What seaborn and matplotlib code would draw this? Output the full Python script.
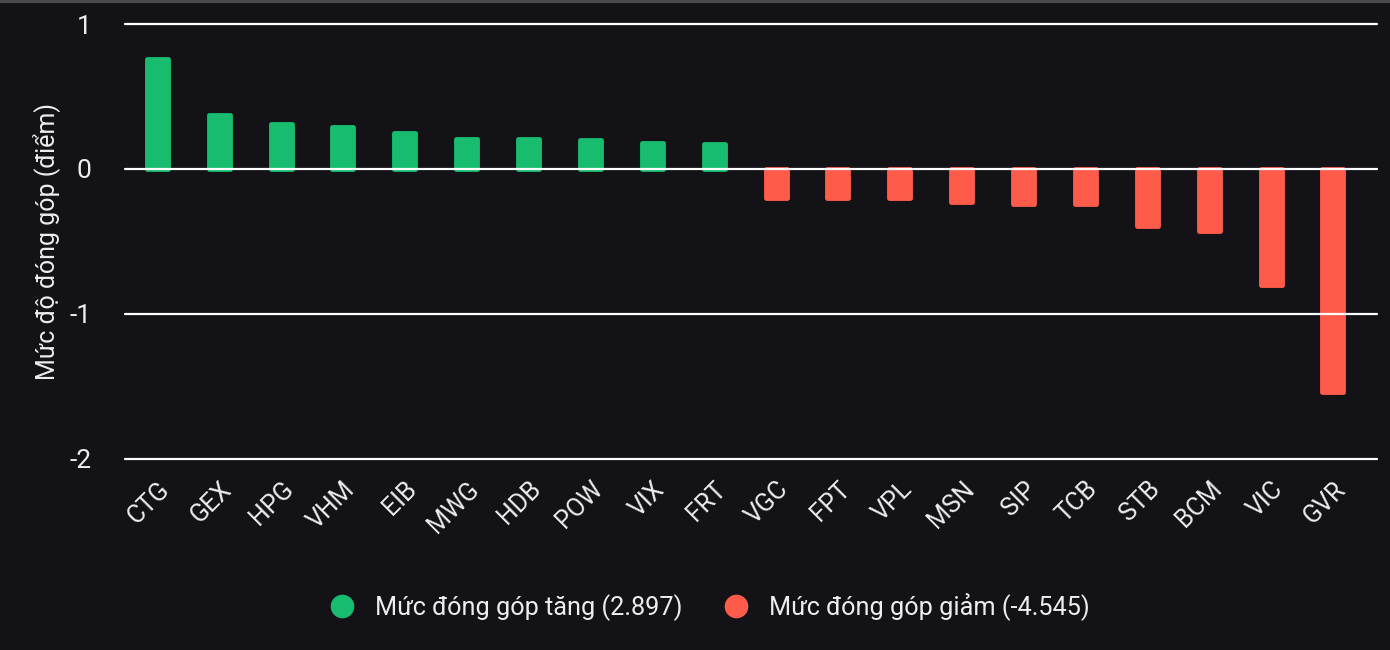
import matplotlib
matplotlib.use("Agg")
import matplotlib.pyplot as plt
from matplotlib.lines import Line2D
import seaborn as sns
import pandas as pd

# data
codes = ['CTG', 'GEX', 'HPG', 'VHM', 'EIB', 'MWG', 'HDB', 'POW', 'VIX', 'FRT',
         'VGC', 'FPT', 'VPL', 'MSN', 'SIP', 'TCB', 'STB', 'BCM', 'VIC', 'GVR']
up_values = [0.76, 0.37, 0.31, 0.29, 0.25, 0.21, 0.21, 0.20, 0.18, 0.17]
down_values = [-0.20, -0.20, -0.20, -0.23, -0.24, -0.24, -0.39, -0.43, -0.80, -1.54]
up_label = 'Mức đóng góp tăng (2.897)'
down_label = 'Mức đóng góp giảm (-4.545)'
y_ticks = [-2, -1, 0, 1]

bg = '#131217'
green = '#17BC6F'
red = '#FE5B4B'
txt = '#EDEDED'

df = pd.DataFrame({
    'Mã': codes,
    'Điểm': up_values + down_values,
    'Nhóm': [up_label] * len(up_values) + [down_label] * len(down_values),
})

sns.set_style('dark')
plt.rcParams['font.family'] = ['Roboto', 'DejaVu Sans']

fig = plt.figure(figsize=(13.9, 6.5), dpi=100, facecolor=bg)
ax = fig.add_axes([0.09, 0.294, 0.901, 0.669])
ax.set_facecolor(bg)

sns.barplot(data=df, x='Mã', y='Điểm', hue='Nhóm', order=codes,
            palette={up_label: green, down_label: red}, dodge=False,
            saturation=1, width=0.34, legend=False, ax=ax)
for p in ax.patches:
    p.set_edgecolor(p.get_facecolor())
    p.set_linewidth(3.5)
    p.set_joinstyle('round')

for t in y_ticks:
    ax.axhline(t, color='white', lw=1.6, zorder=5, clip_on=False)

ax.set_ylim(-2, 1)
ax.set_xlim(-0.52, 19.72)
ax.set_yticks(y_ticks)
ax.set_yticklabels([str(t) for t in y_ticks])
ax.tick_params(axis='y', length=0, pad=24, labelsize=19, labelcolor=txt)
ax.tick_params(axis='x', length=0, pad=13, labelsize=18, labelcolor=txt)
plt.setp(ax.get_xticklabels(), rotation=45, ha='right', rotation_mode='anchor')
ax.set_xlabel('')
ax.set_ylabel('Mức độ đóng góp (điểm)', color=txt, fontsize=18, labelpad=7)
ax.grid(False)
for s in ax.spines.values():
    s.set_visible(False)

handles = [Line2D([], [], marker='o', ls='', markersize=16, color=green),
           Line2D([], [], marker='o', ls='', markersize=16, color=red)]
fig.legend(handles, [up_label, down_label], loc='center',
           bbox_to_anchor=(0.506, 0.066), ncol=2, frameon=False,
           fontsize=18.2, labelcolor=txt, handletextpad=0.3, columnspacing=1.1)

# thin grey strip along the top edge
fig.add_artist(Line2D([0, 1], [0.998, 0.998], transform=fig.transFigure,
                      color='#4a4a4e', lw=3))

fig.savefig('out.png', dpi=100, facecolor=bg)
